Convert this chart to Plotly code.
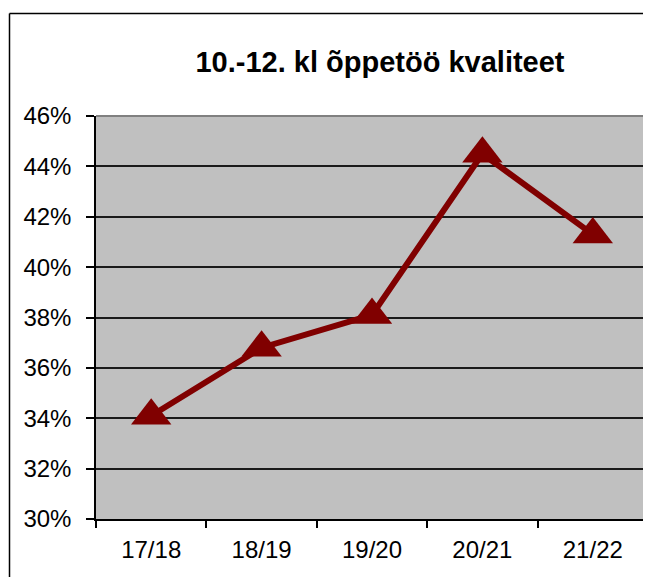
import plotly.graph_objects as go

# andmed
aastad = ["17/18", "18/19", "19/20", "20/21", "21/22"]
kvaliteet = [0.341, 0.368, 0.381, 0.445, 0.413]
y_ticks = [0.30, 0.32, 0.34, 0.36, 0.38, 0.40, 0.42, 0.44, 0.46]
y_labels = ["30%", "32%", "34%", "36%", "38%", "40%", "42%", "44%", "46%"]

PUNANE = "#800000"
FONT = "Liberation Sans, Arial, sans-serif"

# lehel on body margin 8px -> joonis väiksem, et kerimisriba ei tekiks
W, H = 643, 569
L, T, PW, PH = 88, 108, 552, 403

fig = go.Figure()
fig.add_trace(go.Scatter(
    x=aastad, y=kvaliteet, mode="lines+markers",
    line=dict(color=PUNANE, width=6),
    marker=dict(symbol="triangle-up", size=35, color=PUNANE,
                line=dict(width=0)),
    showlegend=False, hoverinfo="x+y"))

fig.update_layout(
    width=W, height=H,
    margin=dict(l=L, r=W - L - PW, t=T, b=H - T - PH),
    paper_bgcolor="white", plot_bgcolor="#C0C0C0",
    font=dict(family=FONT, color="black", size=24),
    title=dict(text="<b>10.-12. kl õppetöö kvaliteet</b>",
               font=dict(size=29, family=FONT, color="black"),
               x=372 / W, xanchor="center", y=1 - 54 / H, yanchor="middle"),
)
fig.update_xaxes(
    type="category", range=[-0.5, 4.5],
    showline=True, linecolor="black", linewidth=1.5,
    ticks="outside", tickson="boundaries", ticklen=7,
    tickcolor="black", tickwidth=1.5,
    showgrid=False, tickfont=dict(size=24), ticklabelstandoff=8)
fig.update_yaxes(
    range=[0.30, 0.46], tickvals=y_ticks, ticktext=y_labels,
    showline=True, linecolor="black", linewidth=1.5,
    ticks="outside", ticklen=8, tickcolor="black", tickwidth=1.5,
    showgrid=True, gridcolor="#1a1a1a", gridwidth=1.5,
    zeroline=False, tickfont=dict(size=24), ticklabelstandoff=10)

# välimine raam: ainult vasak ja ülemine serv on näha
x_vasak = (1.5 - L) / PW
y_ules = 1 + (T - 5.5) / PH
fig.add_shape(type="line", xref="paper", yref="paper",
              x0=x_vasak, x1=1.2, y0=y_ules, y1=y_ules,
              line=dict(color="black", width=1.5))
fig.add_shape(type="line", xref="paper", yref="paper",
              x0=x_vasak, x1=x_vasak, y0=-0.3, y1=y_ules,
              line=dict(color="black", width=1.5))
# joonise ala ülemine/parem serv hall
fig.add_shape(type="line", xref="paper", yref="paper",
              x0=0, x1=1, y0=1, y1=1,
              line=dict(color="#808080", width=2), layer="above")
fig.add_shape(type="line", xref="paper", yref="paper",
              x0=1, x1=1, y0=0, y1=1,
              line=dict(color="#808080", width=2), layer="below")

fig.write_html("out.html")
